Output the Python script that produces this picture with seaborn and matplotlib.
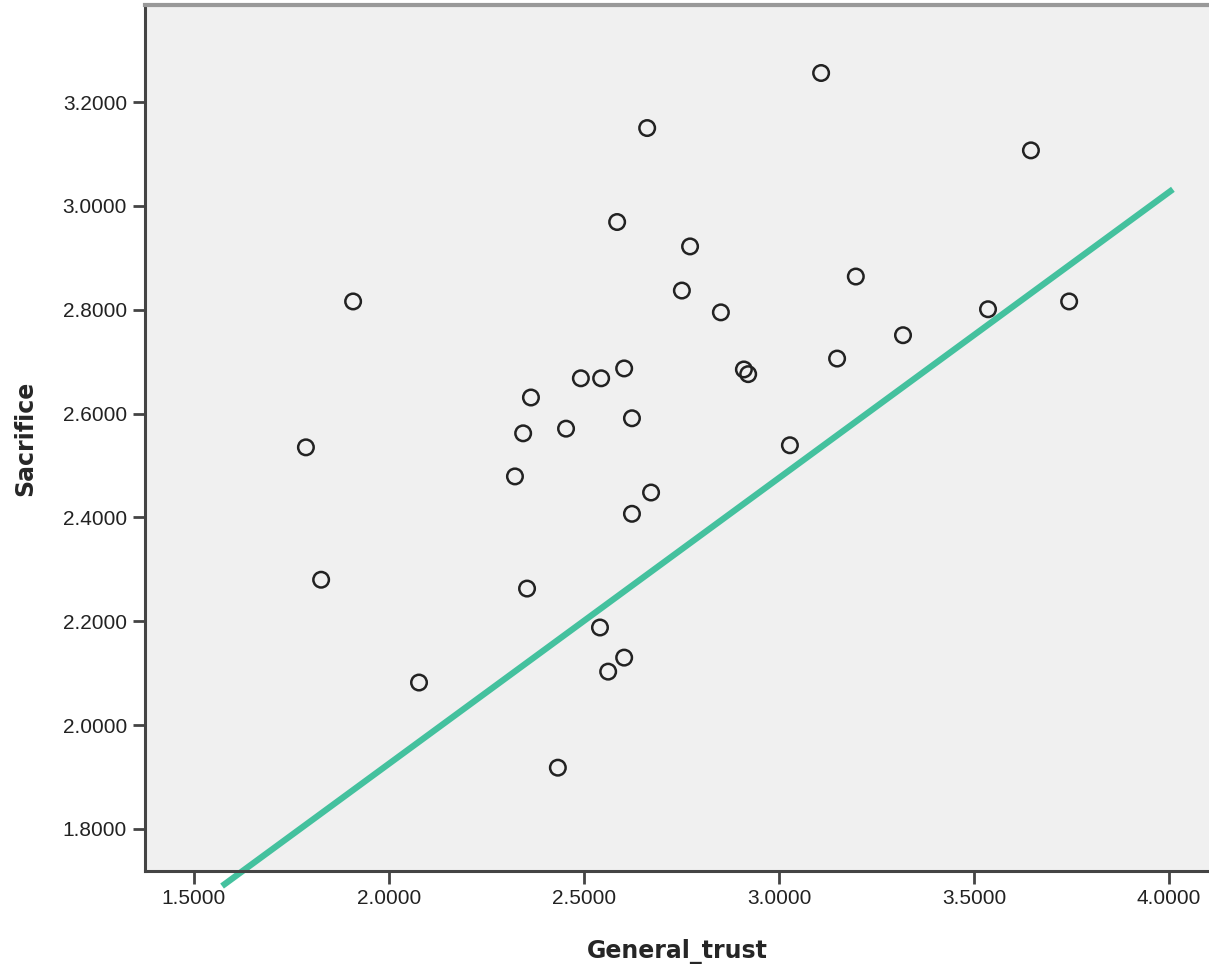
import matplotlib
matplotlib.use("Agg")
import matplotlib.pyplot as plt
import seaborn as sns
import pandas as pd

general_trust = [3.108, 2.662, 3.646, 2.585, 2.772, 3.197, 1.908, 3.744, 2.751, 3.536,
                 2.851, 3.318, 3.149, 2.910, 2.921, 2.603, 2.492, 2.544, 2.364, 2.623,
                 2.454, 2.344, 1.787, 3.028, 2.323, 2.672, 2.623, 1.826, 2.354, 2.541,
                 2.603, 2.562, 2.077, 2.433]
sacrifice = [3.256, 3.150, 3.107, 2.969, 2.922, 2.864, 2.816, 2.816, 2.837, 2.801,
             2.795, 2.751, 2.706, 2.685, 2.676, 2.687, 2.668, 2.668, 2.631, 2.591,
             2.571, 2.562, 2.535, 2.539, 2.479, 2.448, 2.407, 2.280, 2.263, 2.188,
             2.130, 2.103, 2.082, 1.918]
line_x = [1.572, 4.010]
line_y = [1.690, 3.032]
x_ticks = [1.5, 2.0, 2.5, 3.0, 3.5, 4.0]
y_ticks = [1.8, 2.0, 2.2, 2.4, 2.6, 2.8, 3.0, 3.2]

df = pd.DataFrame({"General_trust": general_trust, "Sacrifice": sacrifice})

sns.set_style("white")
fig = plt.figure(figsize=(12.09, 9.68), dpi=100)
ax = fig.add_axes([145 / 1209, 1 - 871 / 968, 1 - 145 / 1209, (871 - 5) / 968])
ax.set_facecolor("#F0F0F0")

sns.scatterplot(data=df, x="General_trust", y="Sacrifice", ax=ax, s=125,
                facecolor="none", edgecolor="#222222", linewidth=1.8, zorder=3)
sns.lineplot(x=line_x, y=line_y, ax=ax, color="#44C19E", linewidth=4.5,
             clip_on=False, zorder=2, solid_capstyle="butt")

ax.set_xlim(1.3744, 4.1026)
ax.set_ylim(1.7190, 3.3870)
ax.set_xticks(x_ticks)
ax.set_yticks(y_ticks)
ax.set_xticklabels([f"{v:.4f}" for v in x_ticks], fontfamily="Liberation Sans", fontsize=15, color="#222222")
ax.set_yticklabels([f"{v:.4f}" for v in y_ticks], fontfamily="Liberation Sans", fontsize=15, color="#222222")
ax.tick_params(axis="both", direction="out", length=9, width=2, color="#444444", pad=4,
               bottom=True, left=True)
ax.set_xlabel("General_trust", fontfamily="DejaVu Sans", fontweight="bold", fontsize=17, labelpad=22)
ax.set_ylabel("Sacrifice", fontfamily="DejaVu Sans", fontweight="bold", fontsize=17, labelpad=18)

for side in ["left", "bottom"]:
    ax.spines[side].set_color("#444444")
    ax.spines[side].set_linewidth(2.2)
ax.spines["top"].set_color("#999999")
ax.spines["top"].set_linewidth(3)
ax.spines["right"].set_visible(False)

fig.savefig("out.png", dpi=100)
